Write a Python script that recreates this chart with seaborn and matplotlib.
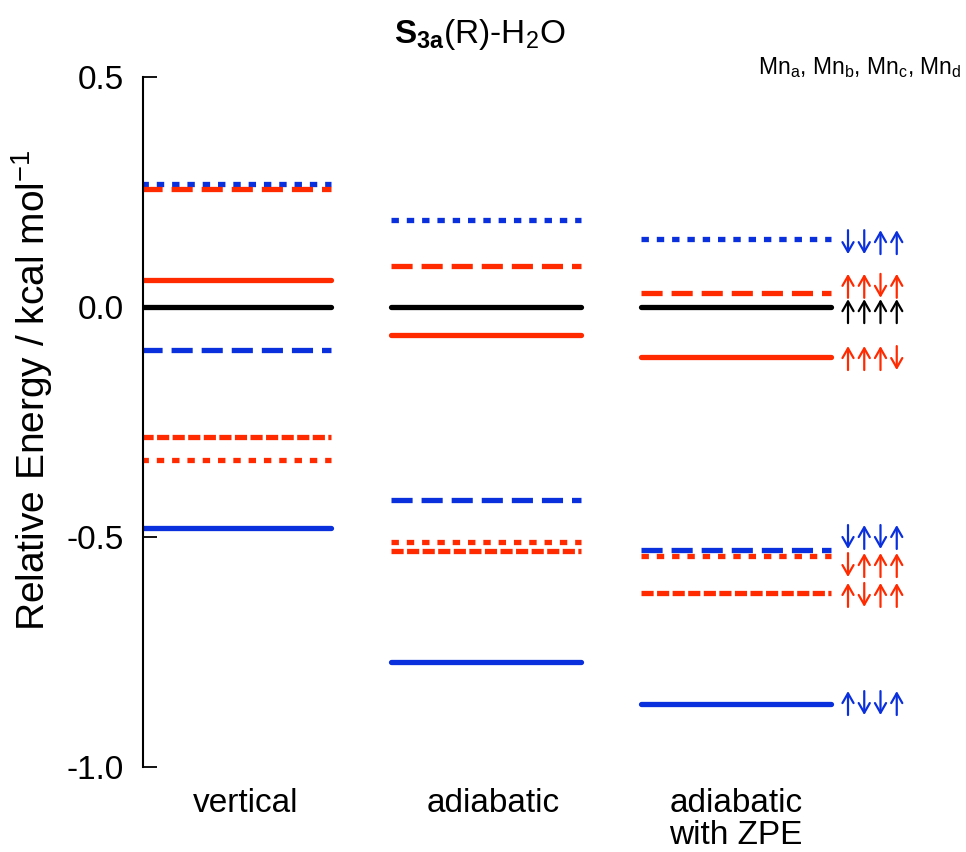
import numpy as np
import pandas as pd
import matplotlib
matplotlib.use("Agg")
import matplotlib.pyplot as plt
import seaborn as sns

# ---------------- data ----------------
columns = ["vertical", "adiabatic", "adiabatic\nwith ZPE"]
column_label_x = [0.04, 1.03, 2.0]
states = ["↑↑↑↑", "↑↑↑↓", "↑↑↓↑", "↓↑↑↑", "↑↓↑↑", "↓↓↑↑", "↓↑↓↑", "↑↓↓↑"]
state_colors = ["black", "red", "red", "red", "red", "blue", "blue", "blue"]
state_styles = ["solid", "solid", "dashed", "dotted", "shortdash", "dotted", "dashed", "solid"]
vertical = [0.000, 0.059, 0.257, -0.333, -0.283, 0.267, -0.093, -0.480]
adiabatic = [0.000, -0.061, 0.089, -0.511, -0.530, 0.189, -0.420, -0.772]
adiabatic_zpe = [0.000, -0.109, 0.030, -0.541, -0.622, 0.148, -0.528, -0.863]
spin_label_y = [-0.009, -0.111, 0.046, -0.561, -0.626, 0.141, -0.500, -0.861]
yticks = [-1.0, -0.5, 0.0, 0.5]
ytick_labels = ["-1.0", "-0.5", "0.0", "0.5"]

# ---------------- style ----------------
sns.set_style("white")
plt.rcParams["font.family"] = ["Liberation Sans", "DejaVu Sans"]
plt.rcParams["mathtext.fontset"] = "custom"
plt.rcParams["mathtext.rm"] = "Liberation Sans"
plt.rcParams["mathtext.it"] = "Liberation Sans:italic"
plt.rcParams["mathtext.bf"] = "Liberation Sans:bold"
plt.rcParams["text.color"] = "black"
plt.rcParams["xtick.color"] = "black"
plt.rcParams["ytick.color"] = "black"
plt.rcParams["axes.labelcolor"] = "black"

color_map = {"black": "#000000", "red": "#FF2A00", "blue": "#0A2FDC"}
dash_map = {"solid": "", "dashed": (4.0, 1.7), "dotted": (1.4, 1.5), "shortdash": (2.3, 0.65)}

hw = 0.38
records = []
for si, s in enumerate(states):
    for ci, vals in enumerate([vertical, adiabatic, adiabatic_zpe]):
        for end in (-hw, hw):
            records.append({"state": s, "col": ci, "x": ci + end, "E": vals[si]})
df = pd.DataFrame(records)

palette = {s: color_map[c] for s, c in zip(states, state_colors)}
dashes = {s: dash_map[st] for s, st in zip(states, state_styles)}
draw_order = [s for s, c in zip(states, state_colors) if c == "blue"] + \
             [s for s, c in zip(states, state_colors) if c == "red"] + \
             [s for s, c in zip(states, state_colors) if c == "black"]

fig = plt.figure(figsize=(9.66, 8.52), dpi=100)
ax = fig.add_axes([143 / 966, 1 - 767 / 852, (940 - 143) / 966, (767 - 77) / 852])

sns.lineplot(data=df, x="x", y="E", hue="state", style="state", units="col",
             estimator=None, sort=False, palette=palette, dashes=dashes,
             hue_order=draw_order, style_order=draw_order,
             linewidth=3.8, legend=False, ax=ax)

ax.set_xlim(-0.372, 2.816)
ax.set_ylim(-1.0, 0.5)
ax.set_yticks(yticks)
ax.set_yticklabels(ytick_labels)
ax.set_xticks(column_label_x)
ax.set_xticklabels(columns, fontsize=24, linespacing=1.05, color="black")
ax.tick_params(axis="x", length=0, pad=15, bottom=False)
ax.tick_params(axis="y", direction="in", length=10, width=1.3, labelsize=24, pad=14,
               left=True, colors="black")
ax.set_xlabel("")
ax.set_ylabel("")
sns.despine(ax=ax, top=True, right=True, bottom=True)
ax.spines["left"].set_linewidth(1.5)
ax.spines["left"].set_color("black")

# spin arrows
ax_x0 = 2 + 0.448
step = 0.065
half = 0.026
for si, s in enumerate(states):
    col = color_map[state_colors[si]]
    yc = spin_label_y[si]
    for k, ch in enumerate(s):
        x = ax_x0 + step * k
        if ch == "↑":
            tail, tip = yc - half, yc + half
        else:
            tail, tip = yc + half, yc - half
        ax.annotate("", xy=(x, tip), xytext=(x, tail), xycoords="data",
                    arrowprops=dict(arrowstyle="->,head_length=0.7,head_width=0.4",
                                    lw=1.6, color=col, shrinkA=0, shrinkB=0,
                                    mutation_scale=10),
                    annotation_clip=False)

fig.text(0.497, 1 - 35 / 852, r"$\mathbf{S}_{\mathbf{3a}}$(R)-H$_2$O",
         ha="center", va="center", fontsize=24, color="black")
fig.text(962 / 966, 1 - 68 / 852, r"Mn$_\mathrm{a}$, Mn$_\mathrm{b}$, Mn$_\mathrm{c}$, Mn$_\mathrm{d}$",
         ha="right", va="center", fontsize=16.5, color="black")
fig.text(32 / 966, 1 - 390 / 852, r"Relative Energy / kcal mol$^{-1}$",
         ha="center", va="center", rotation=90, fontsize=28, color="black")

fig.savefig("out.png", dpi=100)
